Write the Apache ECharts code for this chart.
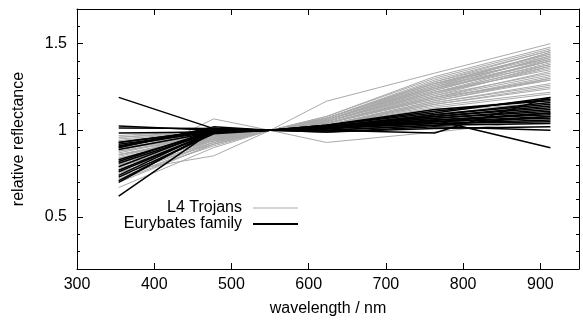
<!DOCTYPE html>
<html>
<head>
<meta charset="utf-8">
<script src="https://cdn.jsdelivr.net/npm/echarts@6/dist/echarts.min.js"></script>
<style>
  html, body { margin: 0; padding: 0; background: #fff; }
  #chart { width: 583px; height: 322px; }
</style>
</head>
<body>
<div id="chart"></div>
<script>
// wavelengths of the spectral points (nm)
const wavelengths = [354, 477, 550, 623, 763, 913]

// L4 Trojans, relative reflectance at each wavelength
const trojanSpectra = [
  [0.80, 1.066, 1, 1.168, 1.33, 1.50],
  [0.76, 0.853, 1, 0.93, 0.99, 1.06],
  [0.67, 0.90, 1, 1.06, 1.25, 1.40],
  [0.70, 0.92, 1, 1.07, 1.28, 1.44],
  [0.72, 0.93, 1, 1.08, 1.30, 1.47],
  [0.74, 0.93, 1, 1.06, 1.24, 1.38],
  [0.75, 0.94, 1, 1.07, 1.27, 1.43],
  [0.77, 0.95, 1, 1.05, 1.22, 1.35],
  [0.78, 0.94, 1, 1.06, 1.26, 1.45],
  [0.79, 0.95, 1, 1.05, 1.23, 1.40],
  [0.80, 0.96, 1, 1.04, 1.20, 1.33],
  [0.81, 0.95, 1, 1.06, 1.25, 1.42],
  [0.82, 0.96, 1, 1.05, 1.21, 1.36],
  [0.83, 0.96, 1, 1.04, 1.18, 1.30],
  [0.84, 0.97, 1, 1.05, 1.22, 1.39],
  [0.85, 0.97, 1, 1.04, 1.19, 1.32],
  [0.86, 0.97, 1, 1.03, 1.16, 1.26],
  [0.87, 0.98, 1, 1.04, 1.20, 1.37],
  [0.88, 0.97, 1, 1.03, 1.15, 1.24],
  [0.89, 0.98, 1, 1.04, 1.18, 1.31],
  [0.90, 0.98, 1, 1.03, 1.14, 1.22],
  [0.91, 0.99, 1, 1.03, 1.17, 1.29],
  [0.92, 0.98, 1, 1.02, 1.12, 1.18],
  [0.93, 0.99, 1, 1.03, 1.16, 1.27],
  [0.94, 0.99, 1, 1.02, 1.11, 1.16],
  [0.95, 0.99, 1, 1.03, 1.13, 1.21],
  [0.96, 1.00, 1, 1.02, 1.09, 1.12],
  [0.97, 1.00, 1, 1.02, 1.10, 1.14],
  [0.76, 0.92, 1, 1.07, 1.29, 1.46],
  [0.73, 0.91, 1, 1.08, 1.31, 1.48],
  [0.82, 0.94, 1, 1.06, 1.27, 1.44],
  [0.86, 0.96, 1, 1.05, 1.23, 1.41],
  [0.88, 0.96, 1, 1.05, 1.24, 1.43],
  [0.90, 0.97, 1, 1.04, 1.21, 1.38],
  [0.84, 0.95, 1, 1.05, 1.22, 1.37],
  [0.80, 0.94, 1, 1.07, 1.28, 1.46],
  [0.92, 0.97, 1, 1.04, 1.19, 1.34],
  [0.77, 0.93, 1, 1.06, 1.26, 1.42],
  [0.79, 0.95, 1, 1.04, 1.19, 1.29],
  [0.83, 0.94, 1, 1.06, 1.24, 1.40],
  [0.94, 0.98, 1, 1.03, 1.15, 1.25],
  [0.71, 0.92, 1, 1.07, 1.27, 1.41],
  [0.86, 0.95, 1, 1.06, 1.25, 1.45],
  [0.89, 0.97, 1, 1.03, 1.17, 1.30],
  [0.96, 0.99, 1, 1.02, 1.08, 1.10]
]

// Eurybates family members
const eurybatesSpectra = [
  [1.19, 1.01, 1, 1.00, 1.03, 1.08],
  [1.025, 1.00, 1, 1.01, 1.04, 1.06],
  [1.014, 1.01, 1, 0.99, 1.02, 1.00],
  [0.93, 1.00, 1, 1.01, 1.06, 0.90],
  [0.985, 0.99, 1, 1.01, 1.05, 1.10],
  [0.93, 1.00, 1, 1.02, 1.08, 1.14],
  [0.92, 0.99, 1, 1.02, 1.07, 1.12],
  [0.91, 1.01, 1, 1.01, 1.05, 1.08],
  [0.905, 1.00, 1, 1.02, 1.09, 1.16],
  [0.89, 0.99, 1, 1.03, 1.10, 1.19],
  [0.83, 0.99, 1, 1.02, 1.08, 1.13],
  [0.82, 1.00, 1, 1.01, 1.06, 1.10],
  [0.81, 0.99, 1, 1.03, 1.11, 1.18],
  [0.79, 1.00, 1, 1.00, 0.985, 1.19],
  [0.77, 0.99, 1, 1.02, 1.07, 1.11],
  [0.76, 0.99, 1, 1.03, 1.12, 1.17],
  [0.74, 1.00, 1, 1.01, 1.04, 1.05],
  [0.73, 0.98, 1, 1.02, 1.09, 1.15],
  [0.71, 0.99, 1, 1.02, 1.06, 1.09],
  [0.70, 1.00, 1, 1.00, 1.03, 1.04],
  [0.62, 1.00, 1, 1.01, 1.05, 1.07],
  [0.90, 1.02, 1, 0.99, 1.01, 1.02]
]

const yLabelValues = [0.5, 1, 1.5]

const FONT = 'Liberation Sans, Arial, sans-serif'

function makeSeries(spectra, name, color, width) {
  return spectra.map(row => ({
    type: 'line',
    name: name,
    data: wavelengths.map((w, i) => [w, row[i]]),
    symbol: 'none',
    lineStyle: { color: color, width: width },
    itemStyle: { color: color },
    silent: true,
    animation: false
  }))
}

const series = [
  ...makeSeries(trojanSpectra, 'L4 Trojans', '#aaaaaa', 1),
  ...makeSeries(eurybatesSpectra, 'Eurybates family', '#000000', 1.5)
]

const axisLine = { show: true, onZero: false, lineStyle: { color: '#000', width: 1 } }

function legendFor(name, top, thickness) {
  return {
    data: [{ name: name, icon: 'rect' }], right: 285, top: top, padding: 0,
    align: 'right', itemWidth: 45, itemHeight: thickness,
    textStyle: { color: '#000', fontFamily: FONT, fontSize: 16, padding: [0, 6, 0, 0] },
    selectedMode: false
  }
}

const chart = echarts.init(document.getElementById('chart'))
chart.setOption({
  backgroundColor: '#fff',
  animation: false,
  grid: { left: 77, right: 4, top: 9, bottom: 53 },
  xAxis: [
    {
      type: 'value', min: 300, max: 950, interval: 100, position: 'bottom',
      axisLine: axisLine,
      axisTick: { show: true, inside: true, length: 6, lineStyle: { color: '#000' } },
      axisLabel: {
        color: '#000', fontFamily: FONT, fontSize: 16, margin: 8,
        formatter: v => (v > 900 ? '' : String(v))
      },
      splitLine: { show: false },
      name: 'wavelength / nm', nameLocation: 'middle', nameGap: 32,
      nameTextStyle: { color: '#000', fontFamily: FONT, fontSize: 16 }
    },
    {
      type: 'value', min: 300, max: 950, interval: 100, position: 'top',
      axisLine: axisLine,
      axisTick: { show: true, inside: true, length: 6, lineStyle: { color: '#000' } },
      axisLabel: { show: false },
      splitLine: { show: false }
    }
  ],
  yAxis: [
    {
      type: 'value', min: 0.2, max: 1.7, interval: 0.1, position: 'left',
      axisLine: axisLine,
      axisTick: { show: true, inside: true, length: 3, lineStyle: { color: '#000' } },
      axisLabel: {
        color: '#000', fontFamily: FONT, fontSize: 16, margin: 10,
        formatter: v => {
          const r = Math.round(v * 10) / 10
          return yLabelValues.includes(r) ? String(r) : ''
        }
      },
      splitLine: { show: false },
      name: 'relative reflectance', nameLocation: 'middle', nameGap: 50,
      nameTextStyle: { color: '#000', fontFamily: FONT, fontSize: 16 }
    },
    {
      type: 'value', min: 0.2, max: 1.7, interval: 0.1, position: 'right',
      axisLine: axisLine,
      axisTick: { show: true, inside: true, length: 3, lineStyle: { color: '#000' } },
      axisLabel: { show: false },
      splitLine: { show: false }
    },
    {
      type: 'value', min: 0.2, max: 1.7, interval: 0.1, position: 'left',
      axisLine: { show: false },
      axisTick: { show: true, inside: true, length: 6, customValues: yLabelValues, lineStyle: { color: '#000' } },
      axisLabel: { show: false },
      splitLine: { show: false }
    },
    {
      type: 'value', min: 0.2, max: 1.7, interval: 0.1, position: 'right',
      axisLine: { show: false },
      axisTick: { show: true, inside: true, length: 6, customValues: yLabelValues, lineStyle: { color: '#000' } },
      axisLabel: { show: false },
      splitLine: { show: false }
    }
  ],
  legend: [
    legendFor('L4 Trojans', 200, 1),
    legendFor('Eurybates family', 216, 2)
  ],
  series: series
})
</script>
</body>
</html>
